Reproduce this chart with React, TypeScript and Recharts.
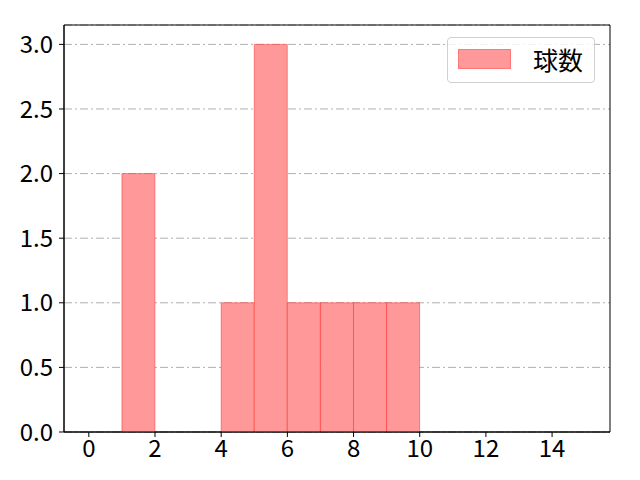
import { Bar, ComposedChart, Legend, ReferenceArea, XAxis, YAxis, CartesianGrid } from "recharts";

const binStarts = [0, 1, 2, 3, 4, 5, 6, 7, 8, 9, 10, 11, 12, 13, 14];
const counts = [0, 2, 0, 0, 1, 3, 1, 1, 1, 1, 0, 0, 0, 0, 0];
const xTicks = [0, 2, 4, 6, 8, 10, 12, 14];
const yTicks = [0, 0.5, 1, 1.5, 2, 2.5, 3];
const seriesName = "球数";

const data = binStarts.map((start, i) => ({ x: start + 0.5, count: counts[i] }));

const font = "'Noto Sans CJK JP', 'Noto Sans', sans-serif";

function LegendBox() {
  return (
    <div
      style={{
        position: "absolute",
        left: 447,
        top: 37,
        width: 148,
        height: 46,
        border: "1px solid #d0d0d0",
        borderRadius: 4,
        background: "rgba(255,255,255,0.8)",
        boxSizing: "border-box",
        fontFamily: font,
      }}
    >
      <div
        style={{
          position: "absolute",
          left: 10,
          top: 11,
          width: 53,
          height: 20,
          background: "#ff9999",
          border: "1px solid #ff7777",
          boxSizing: "border-box",
        }}
      />
      <span style={{ position: "absolute", left: 85, top: 5, fontSize: 25, lineHeight: "32px", color: "#000" }}>{seriesName}</span>
    </div>
  );
}

export default function App() {
  return (
    <div style={{ position: "absolute", left: 0, top: 0, width: 640, height: 480, background: "#fff" }}>
      <ComposedChart
        width={640}
        height={480}
        data={data}
        margin={{ top: 25, right: 30, left: 0, bottom: 0 }}
        barCategoryGap={0}
        barGap={0}
      >
        <CartesianGrid horizontal vertical={false} stroke="#b0b0b0" strokeDasharray="8 3 2 3" />
        <XAxis
          dataKey="x"
          type="number"
          domain={[-0.75, 15.75]}
          ticks={xTicks}
          allowDataOverflow
          height={48}
          tickSize={5}
          tickMargin={3}
          stroke="#000"
          tick={{ fill: "#000", fontSize: 24, fontFamily: font }}
        />
        <YAxis
          type="number"
          domain={[0, 3.15]}
          ticks={yTicks}
          allowDataOverflow
          width={64}
          tickSize={5}
          tickMargin={6}
          stroke="#000"
          tickFormatter={(v: number) => v.toFixed(1)}
          tick={{ fill: "#000", fontSize: 24, fontFamily: font }}
        />
        <Bar
          dataKey="count"
          name={seriesName}
          fill="#ff9999"
          stroke="rgba(255,0,0,0.4)"
          strokeWidth={1}
          isAnimationActive={false}
        />
        <ReferenceArea x1={-0.75} x2={15.75} y1={0} y2={3.15} fill="none" stroke="#000" strokeWidth={1} ifOverflow="visible" />
        <Legend content={() => null} />
      </ComposedChart>
      <LegendBox />
    </div>
  );
}
